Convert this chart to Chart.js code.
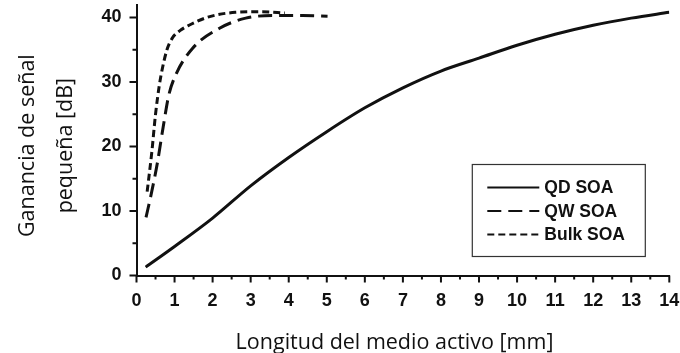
<!DOCTYPE html>
<html>
<head>
<meta charset="utf-8">
<script src="https://cdn.jsdelivr.net/npm/chart.js@4/dist/chart.umd.min.js"></script>
<style>
  html, body { margin: 0; padding: 0; background: #fff; }
  #wrap { width: 680px; height: 353px; }
</style>
</head>
<body>
<div id="wrap"><canvas id="chart"></canvas></div>
<script>
'use strict';

// ── Data ───────────────────────────────────────────────────────────────────
const qdX   = [0.24, 1, 2, 3, 4, 5, 6, 7, 8, 9, 10, 11, 12, 13, 14];
const qdY   = [1.3, 4.5, 8.9, 13.9, 18.3, 22.3, 26.0, 29.1, 31.7, 33.7, 35.7, 37.4, 38.8, 39.9, 40.8];

const qwX   = [0.25, 0.4, 0.55, 0.7, 0.85, 1.03, 1.47, 2.17, 2.87, 3.57, 4.36, 5.02];
const qwY   = [9.0, 13.0, 17.5, 23.0, 28.0, 31.1, 35.2, 38.3, 39.9, 40.3, 40.3, 40.2];

const bulkX = [0.28, 0.4, 0.5, 0.6, 0.68, 0.8, 0.94, 1.15, 1.38, 1.9, 2.6, 3.3, 3.9];
const bulkY = [13.0, 19.0, 25.0, 29.5, 32.1, 35.0, 36.8, 38.0, 38.8, 40.1, 40.8, 40.9, 40.7];

const seriesLabels = ['QD SOA', 'QW SOA', 'Bulk SOA'];
const xTitle = 'Longitud del medio activo [mm]';
const yTitle = ['Ganancia de señal', 'pequeña [dB]'];

// ── Styles ─────────────────────────────────────────────────────────────────
const INK = '#111';
const DASHES = [[], [14, 7], [7, 4]];
const SANS = '"Liberation Sans", Arial, sans-serif';
const TICK_FONT = { family: SANS, size: 18, weight: 'bold' };
const TITLE_FONT = { family: '"Open Sans", sans-serif', size: 21.5 };

const pts = (xs, ys) => xs.map((x, i) => ({ x, y: ys[i] }));
// trailing spaces nudge the centred titles off the axis centre, as in the original
const pad = (s, n) => s + ' '.repeat(n);

// minor/major tick marks drawn off the scales
const tickMarks = {
  id: 'tickMarks',
  afterDraw(chart) {
    const { ctx, scales: { x, y } } = chart;
    ctx.save();
    ctx.strokeStyle = INK;
    ctx.lineWidth = 2;
    ctx.beginPath();
    for (let i = 0; i <= 28; i++) {
      const px = x.getPixelForValue(i / 2);
      ctx.moveTo(px, x.top);
      ctx.lineTo(px, x.top + (i % 2 ? 4 : 7));
    }
    for (let i = 0; i <= 8; i++) {
      const py = y.getPixelForValue(i * 5);
      ctx.moveTo(y.right, py);
      ctx.lineTo(y.right - (i % 2 ? 4 : 7), py);
    }
    ctx.stroke();
    ctx.restore();
  },
};

// boxed legend in the lower right of the plot
const boxLegend = {
  id: 'boxLegend',
  afterDraw(chart) {
    const { ctx, chartArea: a } = chart;
    const w = 173, h = 92;
    const bx = a.right - 24 - w, by = a.bottom - 19 - h;
    ctx.save();
    ctx.fillStyle = '#fff';
    ctx.fillRect(bx, by, w, h);
    ctx.strokeStyle = '#333';
    ctx.lineWidth = 1.2;
    ctx.strokeRect(bx, by, w, h);
    ctx.font = `bold 17.5px ${SANS}`;
    ctx.textBaseline = 'middle';
    ctx.fillStyle = INK;
    chart.data.datasets.forEach((ds, i) => {
      const ly = by + 23 + i * 23.5;
      ctx.beginPath();
      ctx.setLineDash(ds.borderDash || []);
      ctx.lineWidth = 2.2;
      ctx.strokeStyle = INK;
      ctx.moveTo(bx + 15, ly);
      ctx.lineTo(bx + 67, ly);
      ctx.stroke();
      ctx.setLineDash([]);
      ctx.fillText(ds.label, bx + 72, ly + 1);
    });
    ctx.restore();
  },
};

new Chart(document.getElementById('chart'), {
  type: 'line',
  data: {
    datasets: [
      { label: seriesLabels[0], data: pts(qdX, qdY),     borderDash: DASHES[0] },
      { label: seriesLabels[1], data: pts(qwX, qwY),     borderDash: DASHES[1] },
      { label: seriesLabels[2], data: pts(bulkX, bulkY), borderDash: DASHES[2] },
    ].map(ds => ({
      ...ds,
      borderColor: INK,
      borderWidth: 3,
      pointRadius: 0,
      fill: false,
      cubicInterpolationMode: 'monotone',
    })),
  },
  options: {
    responsive: true,
    maintainAspectRatio: false,
    animation: false,
    layout: { padding: { left: 0, right: 10.7, top: 4.6, bottom: 0 } },
    plugins: { legend: { display: false }, tooltip: { enabled: false } },
    scales: {
      x: {
        type: 'linear',
        min: 0, max: 14,
        grid: { display: false, drawTicks: false },
        border: { display: true, color: INK, width: 2 },
        ticks: { stepSize: 1, color: INK, font: TICK_FONT, padding: 15, maxRotation: 0 },
        title: { display: true, text: pad(xTitle, 3), color: INK, font: { ...TITLE_FONT, lineHeight: 0.9 }, padding: { top: 0, bottom: 0 } },
        afterFit: s => { s.height = 77.5; s.paddingLeft = 0; s.paddingRight = 0; },
      },
      y: {
        min: 0, max: 42,
        grid: { display: false, drawTicks: false },
        border: { display: true, color: INK, width: 2 },
        ticks: { stepSize: 10, color: INK, font: TICK_FONT, padding: 15, includeBounds: false },
        title: { display: true, text: yTitle.map(t => pad(t, 2)), color: INK, font: { ...TITLE_FONT, lineHeight: 1.75 }, padding: { top: 9, bottom: 0 } },
        afterFit: s => { s.width = 136.5; s.paddingTop = 0; s.paddingBottom = 0; },
      },
    },
  },
  plugins: [tickMarks, boxLegend],
});
</script>
</body>
</html>
